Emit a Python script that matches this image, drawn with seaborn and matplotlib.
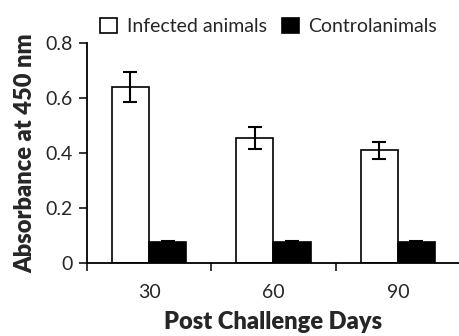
import matplotlib
matplotlib.use("Agg")
import matplotlib.pyplot as plt
import seaborn as sns
import pandas as pd

# data
days = ["30", "60", "90"]
infected = [0.64, 0.455, 0.41]
infected_err = [0.055, 0.04, 0.03]
control = [0.075, 0.075, 0.075]
control_err = [0.005, 0.005, 0.005]
groups = ["Infected animals", "Controlanimals"]

sns.set_theme(style="ticks")
plt.rcParams['font.family'] = ['Lato', 'DejaVu Sans']

df = pd.DataFrame({
    "day": days * 2,
    "value": infected + control,
    "group": [groups[0]] * 3 + [groups[1]] * 3,
})

fig = plt.figure(figsize=(4.6, 3.36), dpi=100)
ax = fig.add_axes([0.189, 0.217, 0.811, 0.655])

sns.barplot(data=df, x="day", y="value", hue="group", hue_order=groups,
            palette=["white", "black"], width=0.6, errorbar=None,
            edgecolor="black", linewidth=1.2, ax=ax)

# error bars on top of each bar
errs = infected_err + control_err
for patch, err in zip(ax.patches[:6], errs):
    cx = patch.get_x() + patch.get_width() / 2
    ax.errorbar(cx, patch.get_height(), yerr=err, fmt="none",
                ecolor="black", elinewidth=1.5, capsize=5, capthick=1.5)

ax.set_xlim(-0.5, 2.5)
ax.set_ylim(0, 0.8)
ax.set_yticks([0, 0.2, 0.4, 0.6, 0.8])
ax.set_yticklabels(["0", "0.2", "0.4", "0.6", "0.8"])
ax.set_xticks([0, 1, 2])
ax.set_xticks([-0.5, 0.5, 1.5, 2.5], minor=True)
ax.tick_params(axis="x", which="major", length=0, labelsize=14, pad=15)
ax.tick_params(axis="x", which="minor", length=6, width=1.3, direction="out")
ax.tick_params(axis="y", length=6, width=1.3, labelsize=14, pad=4)
sns.despine(ax=ax)
for s in ["left", "bottom"]:
    ax.spines[s].set_linewidth(1.3)
    ax.spines[s].set_color("black")

ax.set_xlabel("Post Challenge Days", fontsize=17, fontweight="heavy", labelpad=7)
ax.set_ylabel("Absorbance at 450 nm", fontsize=17, fontweight="heavy", labelpad=7)

ax.legend(loc="lower left", bbox_to_anchor=(0.015, 1.0), ncol=2, frameon=False,
          fontsize=14, handlelength=0.85, handleheight=0.85, handletextpad=0.5,
          columnspacing=0.8, borderaxespad=0)

fig.savefig("out.png", dpi=100)
